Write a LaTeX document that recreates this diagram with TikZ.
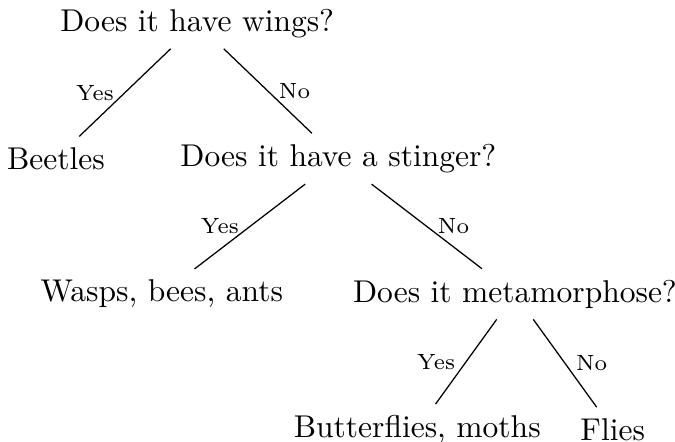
\documentclass[tikz,border=0pt]{standalone}
\begin{document}
\begin{tikzpicture}[
  level distance=15.1mm,
  level 1/.style={sibling distance=31.5mm},
  level 2/.style={sibling distance=39.4mm},
  level 3/.style={sibling distance=21.8mm},
  answer/.style={font=\scriptsize}
]
\useasboundingbox (-2.20,0.26) rectangle (5.33,-4.67);
\node (wings) {Does it have wings?}
  child {node (beetles) {Beetles}
    edge from parent node[answer,left] (yes1) {Yes}}
  child {node (stinger) {Does it have a stinger?}
    child {node (wasps) {Wasps, bees, ants}
      edge from parent node[answer,left] (yes2) {Yes}}
    child {node (meta) {Does it metamorphose?}
      child {node (moths) {Butterflies, moths}
        edge from parent node[answer,left] (yes3) {Yes}}
      child {node (flies) {Flies}
        edge from parent node[answer,right] (no3) {No}}
      edge from parent node[answer,right] (no2) {No}}
    edge from parent node[answer,right] (no1) {No}};
\end{tikzpicture}
\end{document}
